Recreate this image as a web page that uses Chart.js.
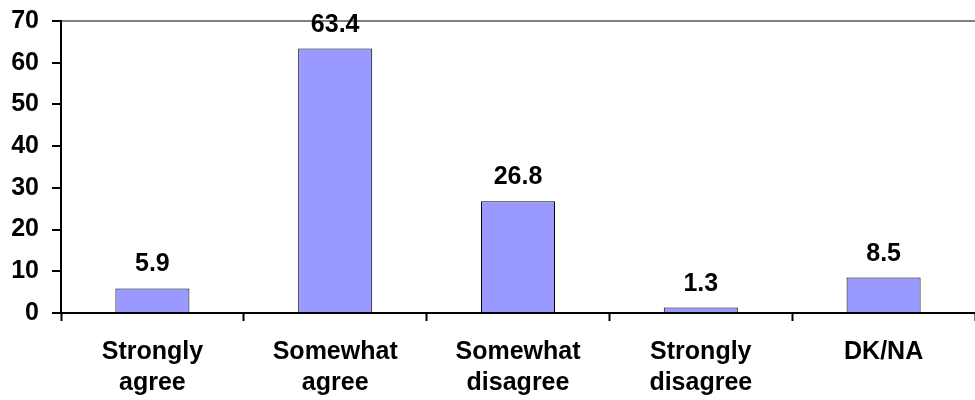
<!DOCTYPE html>
<html>
<head>
<meta charset="utf-8">
<title>Agreement chart</title>
<script src="https://cdn.jsdelivr.net/npm/chart.js@4.4.0/dist/chart.umd.min.js"></script>
<style>
  html, body { margin: 0; padding: 0; background: #fff; }
  #wrap { width: 975px; height: 400px; }
</style>
</head>
<body>
<div id="wrap"><canvas id="chart"></canvas></div>
<script>
// Data
const categories = [["Strongly", "agree"], ["Somewhat", "agree"], ["Somewhat", "disagree"], ["Strongly", "disagree"], ["DK/NA"]];
const percentages = [5.9, 63.4, 26.8, 1.3, 8.5];
const yTicks = [0, 10, 20, 30, 40, 50, 60, 70];

const FONT = "'Liberation Sans', Arial, sans-serif";
const yMax = yTicks[yTicks.length - 1];

// Value labels above the bars
const valueLabels = {
  id: "valueLabels",
  afterDatasetsDraw(chart) {
    const ctx = chart.ctx;
    const meta = chart.getDatasetMeta(0);
    ctx.save();
    ctx.font = "bold 25px " + FONT;
    ctx.fillStyle = "#000";
    ctx.textAlign = "center";
    ctx.textBaseline = "alphabetic";
    meta.data.forEach((bar, i) => {
      ctx.fillText(percentages[i].toFixed(1), bar.x, bar.y - 17);
    });
    ctx.restore();
  }
};

new Chart(document.getElementById("chart"), {
  type: "bar",
  data: {
    labels: categories,
    datasets: [
      {
        data: percentages,
        backgroundColor: "#9999FF",
        borderColor: "#000000",
        borderWidth: 1,
        barPercentage: 0.405,
        categoryPercentage: 1
      }
    ]
  },
  options: {
    responsive: true,
    maintainAspectRatio: false,
    animation: false,
    layout: {
      padding: { top: 21, left: 0, right: 0, bottom: 0 }
    },
    plugins: {
      legend: { display: false },
      tooltip: { enabled: false }
    },
    scales: {
      x: {
        offset: true,
        grid: {
          offset: true,
          drawOnChartArea: false,
          tickColor: "#000",
          tickLength: 8,
          tickWidth: 2
        },
        border: { color: "#000", width: 2 },
        ticks: {
          color: "#000",
          padding: 16,
          maxRotation: 0,
          font: { family: FONT, size: 25, weight: "bold", lineHeight: 1.24 }
        },
        afterFit: s => {
          s.height = 87;
          s.paddingLeft = 0;
          s.paddingRight = 0;
        }
      },
      y: {
        min: yTicks[0],
        max: yMax,
        ticks: {
          stepSize: yTicks[1] - yTicks[0],
          color: "#000",
          padding: 13,
          font: { family: FONT, size: 25, weight: "bold" }
        },
        grid: {
          color: c => (c.tick && c.tick.value === yMax ? "#808080" : "transparent"),
          lineWidth: 2,
          tickColor: "#000",
          tickLength: 9,
          tickWidth: 2
        },
        border: { color: "#000", width: 2 },
        afterFit: s => {
          s.width = 61;
          s.paddingTop = 0;
          s.paddingBottom = 0;
        }
      }
    }
  },
  plugins: [valueLabels]
});
</script>
</body>
</html>
